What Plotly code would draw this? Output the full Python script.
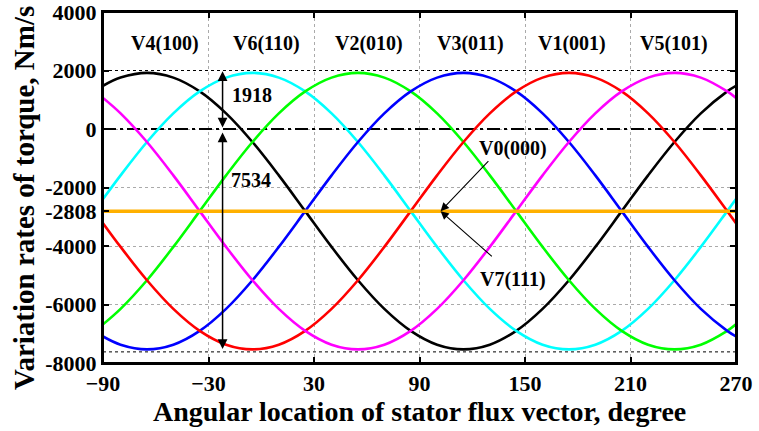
import plotly.graph_objects as go

# ---------------- data ----------------
angle = [-90, -80, -65, -50, -35, -20, -5, 10, 25, 40, 55, 70, 85, 100, 115,
         130, 145, 160, 175, 190, 205, 220, 235, 250, 265, 270]

v4_100 = [1475, 1757, 1918, 1757, 1285, 534, -445, -1585, -2808, -4031, -5171, -6150, -6901,
          -7373, -7534, -7373, -6901, -6150, -5171, -4031, -2808, -1585, -445, 534, 1285, 1475]
v6_110 = [-2396, -1585, -445, 534, 1285, 1757, 1918, 1757, 1285, 534, -445, -1585, -2808,
          -4031, -5171, -6150, -6901, -7373, -7534, -7373, -6901, -6150, -5171, -4031, -2808, -2396]
v2_010 = [-6679, -6150, -5171, -4031, -2808, -1585, -445, 534, 1285, 1757, 1918, 1757, 1285,
          534, -445, -1585, -2808, -4031, -5171, -6150, -6901, -7373, -7534, -7373, -6901, -6679]
v3_011 = [-7091, -7373, -7534, -7373, -6901, -6150, -5171, -4031, -2808, -1585, -445, 534, 1285,
          1757, 1918, 1757, 1285, 534, -445, -1585, -2808, -4031, -5171, -6150, -6901, -7091]
v1_001 = [-3220, -4031, -5171, -6150, -6901, -7373, -7534, -7373, -6901, -6150, -5171, -4031, -2808,
          -1585, -445, 534, 1285, 1757, 1918, 1757, 1285, 534, -445, -1585, -2808, -3220]
v5_101 = [1063, 534, -445, -1585, -2808, -4031, -5171, -6150, -6901, -7373, -7534, -7373, -6901,
          -6150, -5171, -4031, -2808, -1585, -445, 534, 1285, 1757, 1918, 1757, 1285, 1063]

zero_vector = -2808          # V0(000) / V7(111)
peak_value = 1918
trough_value = -7534
ref_top = 2000
ref_bottom = -7620

vector_labels = ["V4(100)", "V6(110)", "V2(010)", "V3(011)", "V1(001)", "V5(101)"]
vector_label_x = [-55, 3, 61, 119, 177, 235]
vector_label_y = 2940

x_ticks = [-90, -30, 30, 90, 150, 210, 270]
y_ticks = [-8000, -6000, -4000, -2808, -2000, 0, 2000, 4000]
y_tick_text = ["-8000", "-6000", "-4000", "-2808", "-2000", "0", "2000", "4000"]

series = [
    (v4_100, "black"),
    (v6_110, "#00FFFF"),
    (v2_010, "#00FF00"),
    (v3_011, "#0000FF"),
    (v1_001, "#FF0000"),
    (v5_101, "#FF00FF"),
]

FONT = "Liberation Serif"

fig = go.Figure()
x_ends = [angle[0], angle[-1]]

# reference dotted lines
for lvl in (ref_top, ref_bottom):
    fig.add_trace(go.Scatter(x=x_ends, y=[lvl, lvl], mode="lines",
                             line=dict(color="black", width=1, dash="dot"),
                             showlegend=False, hoverinfo="skip"))
# zero line dash-dot
fig.add_trace(go.Scatter(x=x_ends, y=[0, 0], mode="lines",
                         line=dict(color="black", width=2, dash="13px,4px,3px,4px"),
                         showlegend=False, hoverinfo="skip"))

for ys, col in series:
    fig.add_trace(go.Scatter(x=angle, y=ys, mode="lines",
                             line=dict(color=col, width=2.6, shape="spline", smoothing=1.0),
                             showlegend=False))

# zero vector line
fig.add_trace(go.Scatter(x=x_ends, y=[zero_vector, zero_vector], mode="lines",
                         line=dict(color="#FFB000", width=3.5),
                         showlegend=False))

annotations = []
for lab, lx in zip(vector_labels, vector_label_x):
    annotations.append(dict(x=lx, y=vector_label_y, xref="x", yref="y", text=lab,
                            showarrow=False, font=dict(family=FONT, size=20, color="black",
                                                       weight="bold")))

arrow_x = -22
# double arrows
annotations.append(dict(x=arrow_x, y=peak_value + 60, ax=arrow_x, ay=0, xref="x", yref="y",
                        axref="x", ayref="y", text="", showarrow=True, arrowside="end+start",
                        arrowhead=2, arrowsize=1.3, arrowwidth=1.5, arrowcolor="black",
                        standoff=0, startstandoff=0, startarrowhead=2, startarrowsize=1.3))
annotations.append(dict(x=arrow_x, y=-120, ax=arrow_x, ay=trough_value - 40, xref="x", yref="y",
                        axref="x", ayref="y", text="", showarrow=True, arrowside="end+start",
                        arrowhead=2, arrowsize=1.3, arrowwidth=1.5, arrowcolor="black",
                        standoff=0, startstandoff=0, startarrowhead=2, startarrowsize=1.3))
annotations.append(dict(x=-5, y=1160, xref="x", yref="y", text=str(peak_value), showarrow=False,
                        font=dict(family=FONT, size=20, color="black", weight="bold")))
annotations.append(dict(x=-6, y=-1744, xref="x", yref="y", text=str(-trough_value), showarrow=False,
                        font=dict(family=FONT, size=20, color="black", weight="bold")))

# V0 / V7 labels with arrows
annotations.append(dict(x=143, y=-650, xref="x", yref="y", text="V0(000)", showarrow=False,
                        font=dict(family=FONT, size=20, color="black", weight="bold")))
annotations.append(dict(x=143, y=-5160, xref="x", yref="y", text="V7(111)", showarrow=False,
                        font=dict(family=FONT, size=20, color="black", weight="bold")))
annotations.append(dict(x=102, y=zero_vector, ax=130, ay=-1050, xref="x", yref="y",
                        axref="x", ayref="y", text="", showarrow=True, arrowhead=2,
                        arrowsize=1.5, arrowwidth=1.1, arrowcolor="black", standoff=0))
annotations.append(dict(x=102, y=zero_vector, ax=132, ay=-4400, xref="x", yref="y",
                        axref="x", ayref="y", text="", showarrow=True, arrowhead=2,
                        arrowsize=1.5, arrowwidth=1.1, arrowcolor="black", standoff=0))

# axis titles
annotations.append(dict(x=0.5, y=-0.137, xref="paper", yref="paper", yanchor="middle",
                        text="Angular location of stator flux vector, degree", showarrow=False,
                        font=dict(family=FONT, size=28, color="black", weight="bold")))
annotations.append(dict(x=-0.125, y=0.47, xref="paper", yref="paper", xanchor="center",
                        yanchor="middle",
                        text="Variation rates of torque, Nm/s", showarrow=False, textangle=-90,
                        font=dict(family=FONT, size=29, color="black", weight="bold")))

fig.update_layout(
    width=759, height=431,
    margin=dict(l=103, r=23, t=12, b=68),
    plot_bgcolor="white", paper_bgcolor="white",
    annotations=annotations,
    shapes=[dict(type="rect", xref="paper", yref="paper", x0=0, y0=0, x1=1, y1=1,
                 line=dict(color="black", width=2), layer="above")],
    showlegend=False,
)
fig.update_xaxes(range=[-90, 270], tickvals=x_ticks, ticks="inside", ticklen=6, tickwidth=2,
                 tickcolor="black", showline=True, linewidth=2, linecolor="black", mirror="ticks",
                 showgrid=True, gridcolor="#AAAAAA", gridwidth=1, griddash="dot", zeroline=False,
                 automargin=False, ticklabeloverflow="allow",
                 tickfont=dict(family=FONT, size=22, color="black", weight="bold"))
fig.update_yaxes(range=[-8000, 4000], tickvals=y_ticks, ticktext=y_tick_text, ticks="inside",
                 ticklen=6, tickwidth=2, tickcolor="black", showline=True, linewidth=2,
                 linecolor="black", mirror="ticks", showgrid=True, gridcolor="#AAAAAA",
                 gridwidth=1, griddash="dot", zeroline=False, automargin=False,
                 ticklabeloverflow="allow",
                 tickfont=dict(family=FONT, size=22, color="black", weight="bold"))

fig.write_html("out.html", config={"displayModeBar": False},
               post_script="document.body.style.margin='0px';document.body.style.overflow='hidden';")
